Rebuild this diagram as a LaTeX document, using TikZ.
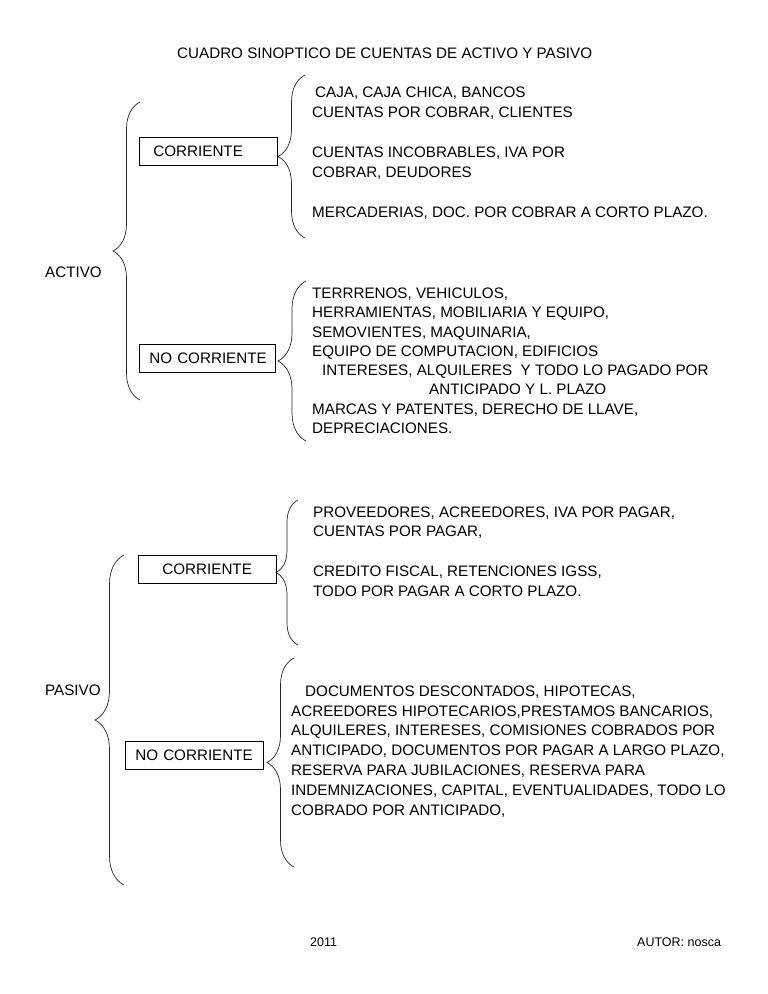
\documentclass[tikz,border=0pt]{standalone}
\usepackage{fontspec}
\setmainfont{Liberation Sans}
\usetikzlibrary{decorations.pathreplacing}

\begin{document}
\begin{tikzpicture}[x=1pt,y=-1pt,
    texto/.style={font=\fontsize{15.2}{#1}\selectfont,align=left,anchor=base west,inner sep=0pt},
    texto/.default=19.8,
    caja/.style={draw=black,line width=0.8pt,anchor=north west,align=left,inner xsep=8pt,inner ysep=0pt,
      font=\fontsize{15.2}{17}\selectfont,text height=10.9pt,text depth=0pt,minimum height=28pt},
    llave/.style={draw=black!85,line width=0.7pt,decorate,decoration={brace,amplitude=#1}},
    llave/.default=27pt]
  \fill[white] (0,0) rectangle (768,994);

  \node[texto] (titulo) at (177,58) {CUADRO SINOPTICO DE CUENTAS DE ACTIVO Y PASIVO};

  % activo (los bloques de texto se anclan en la ultima linea)
  \node[texto] (activo) at (45,277.5) {ACTIVO};
  \coordinate (aSup) at (140,102);
  \coordinate (aInf) at (140,400);
  \draw[llave] (aInf) -- (aSup);

  \node[caja,text width=122pt] (aCorr) at (139,137) {\hspace*{6pt}CORRIENTE};
  \coordinate (aCorrSup) at (305,75);
  \coordinate (aCorrInf) at (305,238);
  \draw[llave] (aCorrInf) -- (aCorrSup);
  \node[texto=20] (aCorrTxt) at (312,217) {\hspace*{3pt}CAJA, CAJA CHICA, BANCOS\\CUENTAS POR COBRAR, CLIENTES\\[20pt]CUENTAS INCOBRABLES, IVA POR\\COBRAR, DEUDORES\\[20pt]MERCADERIAS, DOC. POR COBRAR A CORTO PLAZO.};

  \node[caja,text width=120pt] (aNoCorr) at (139,344) {\hspace*{2pt}NO CORRIENTE};
  \coordinate (aNoCorrSup) at (306,281);
  \coordinate (aNoCorrInf) at (306,441);
  \draw[llave=28pt] (aNoCorrInf) -- (aNoCorrSup);
  \node[texto=19.3] (aNoCorrTxt) at (312,433.5) {TERRRENOS, VEHICULOS,\\HERRAMIENTAS, MOBILIARIA Y EQUIPO,\\SEMOVIENTES, MAQUINARIA,\\EQUIPO DE COMPUTACION, EDIFICIOS\\\hspace*{10pt}INTERESES, ALQUILERES\ \ Y TODO LO PAGADO POR\\\hspace*{117pt}ANTICIPADO Y L. PLAZO\\MARCAS Y PATENTES, DERECHO DE LLAVE,\\DEPRECIACIONES.};

  % pasivo
  \node[texto] (pasivo) at (45,695.5) {PASIVO};
  \coordinate (pSup) at (124,555);
  \coordinate (pInf) at (124,885);
  \draw[llave=29pt] (pInf) -- (pSup);

  \node[caja,text width=122pt] (pCorr) at (138,555) {\hspace*{16pt}CORRIENTE};
  \coordinate (pCorrSup) at (298,500);
  \coordinate (pCorrInf) at (298,645);
  \draw[llave=22pt] (pCorrInf) -- (pCorrSup);
  \node[texto=19.75] (pCorrTxt) at (313,596) {PROVEEDORES, ACREEDORES, IVA POR PAGAR,\\CUENTAS POR PAGAR,\\[19.75pt]CREDITO FISCAL, RETENCIONES IGSS,\\TODO POR PAGAR A CORTO PLAZO.};

  \node[caja,text width=122pt] (pNoCorr) at (125,741) {\hspace*{2pt}NO CORRIENTE};
  \coordinate (pNoCorrSup) at (294,658);
  \coordinate (pNoCorrInf) at (294,867);
  \draw[llave] (pNoCorrInf) -- (pNoCorrSup);
  \node[texto=19.8] (pNoCorrTxt) at (291,815) {\hspace*{14pt}DOCUMENTOS DESCONTADOS, HIPOTECAS,\\ACREEDORES HIPOTECARIOS,PRESTAMOS BANCARIOS,\\ALQUILERES, INTERESES, COMISIONES COBRADOS POR\\ANTICIPADO, DOCUMENTOS POR PAGAR A LARGO PLAZO,\\RESERVA PARA JUBILACIONES, RESERVA PARA\\INDEMNIZACIONES, CAPITAL, EVENTUALIDADES, TODO LO\\COBRADO POR ANTICIPADO,};

  % pie
  \node[texto,font=\fontsize{12.5}{15}\selectfont] (anio) at (310,946.5) {2011};
  \node[texto,font=\fontsize{12.5}{15}\selectfont] (autor) at (637,946.5) {AUTOR: nosca};
\end{tikzpicture}
\end{document}
